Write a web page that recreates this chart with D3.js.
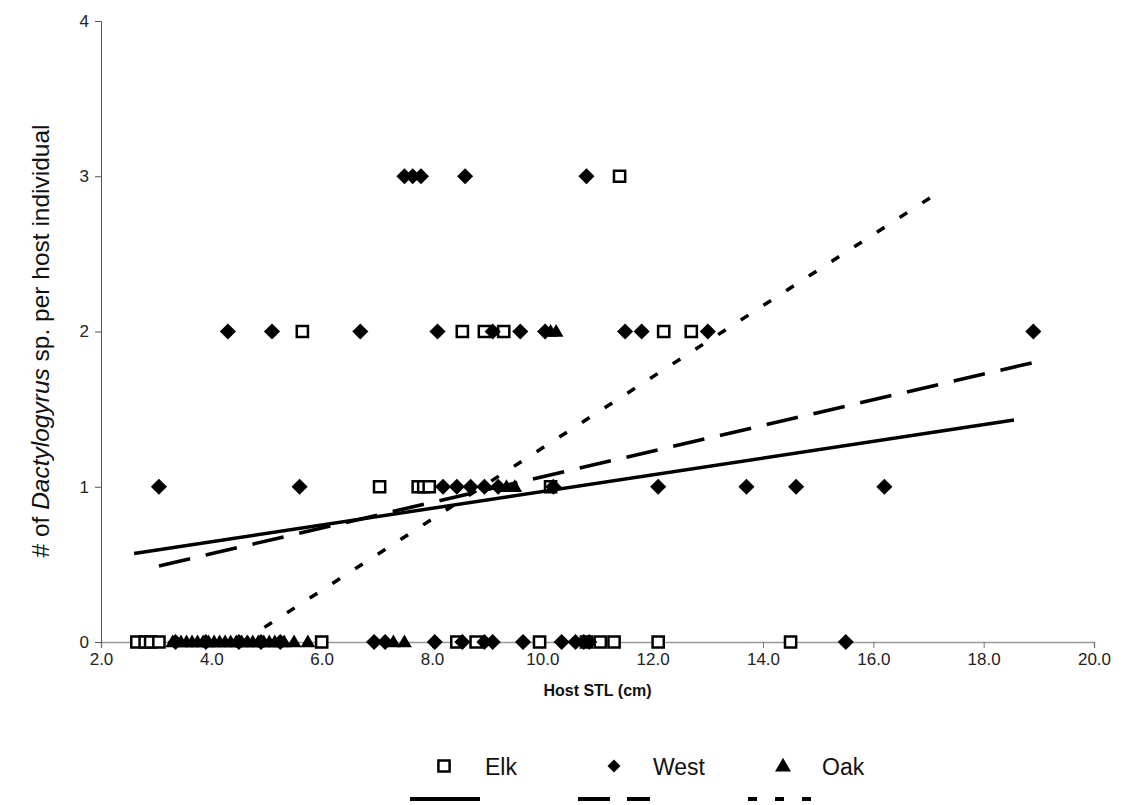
<!DOCTYPE html>
<html>
<head>
<meta charset="utf-8">
<script src="https://cdn.jsdelivr.net/npm/d3@7"></script>
<style>
  body { margin: 0; background: #fff; }
  text { font-family: "Liberation Sans", Arial, sans-serif; }
</style>
</head>
<body>
<div id="chart"></div>
<script>
// ---- data ----
const xTicks = [2, 4, 6, 8, 10, 12, 14, 16, 18, 20];
const yTicks = [0, 1, 2, 3, 4];

// Elk (open squares)
const elkSTL   = [2.65, 2.8, 2.9, 3.05, 6.0, 8.45, 8.8, 9.95, 10.8, 11.05, 11.3, 12.1, 14.5,
                  7.05, 7.75, 7.85, 7.95, 10.15,
                  5.65, 8.55, 8.95, 9.3, 12.2, 12.7,
                  11.4];
const elkCount = [0, 0, 0, 0, 0, 0, 0, 0, 0, 0, 0, 0, 0,
                  1, 1, 1, 1, 1,
                  2, 2, 2, 2, 2, 2,
                  3];

// West (diamonds)
const westSTL   = [3.35, 3.9, 4.5, 4.9, 5.25, 6.95, 7.15, 8.05, 8.55, 8.95, 9.1, 9.65, 10.35, 10.6, 10.75, 10.85, 15.5,
                   3.05, 5.6, 8.2, 8.45, 8.7, 8.95, 9.2, 10.2, 12.1, 13.7, 14.6, 16.2,
                   4.3, 5.1, 6.7, 8.1, 9.1, 9.6, 10.05, 11.5, 11.8, 13.0, 18.9,
                   7.5, 7.65, 7.8, 8.6, 10.8];
const westCount = [0, 0, 0, 0, 0, 0, 0, 0, 0, 0, 0, 0, 0, 0, 0, 0, 0,
                   1, 1, 1, 1, 1, 1, 1, 1, 1, 1, 1, 1,
                   2, 2, 2, 2, 2, 2, 2, 2, 2, 2, 2,
                   3, 3, 3, 3, 3];

// Oak (triangles)
const oakSTL   = [3.3, 3.45, 3.55, 3.65, 3.75, 3.85, 3.95, 4.05, 4.15, 4.25, 4.35, 4.45, 4.55, 4.65,
                  4.75, 4.85, 4.95, 5.05, 5.15, 5.25, 5.32,
                  5.5, 5.75, 7.3, 7.5,
                  9.35, 9.5,
                  10.15, 10.25];
const oakCount = [0, 0, 0, 0, 0, 0, 0, 0, 0, 0, 0, 0, 0, 0,
                  0, 0, 0, 0, 0, 0, 0,
                  0, 0, 0, 0,
                  1, 1,
                  2, 2];

// linear trend lines (end points)
const elkTrendX  = [2.6, 18.55];
const elkTrendY  = [0.57, 1.43];
const westTrendX = [3.05, 18.9];
const westTrendY = [0.49, 1.80];
const oakTrendX  = [4.55, 17.2];
const oakTrendY  = [0.0, 2.9];

const legendNames = ["Elk", "West", "Oak"];

// ---- layout ----
const W = 1122, H = 805;
const margin = {top: 21, right: 28, bottom: 163, left: 101};
const width = W - margin.left - margin.right,
      height = H - margin.top - margin.bottom;

const root = d3.select("#chart").append("svg")
  .attr("width", W).attr("height", H);

const svg = root.append("g")
  .attr("transform", `translate(${margin.left},${margin.top})`);

const x = d3.scaleLinear().domain([2, 20]).range([0, width]);
const y = d3.scaleLinear().domain([0, 4]).range([height, 0]);

// x axis
const xAxis = svg.append("g")
  .attr("transform", `translate(0,${height})`)
  .call(d3.axisBottom(x).tickValues(xTicks).tickFormat(d3.format(".1f")).tickSizeOuter(0).tickSize(6).tickPadding(5));
xAxis.select(".domain").attr("stroke", "#999").attr("stroke-width", 1.5);
xAxis.selectAll(".tick line").attr("stroke", "#777");
xAxis.selectAll(".tick text").attr("font-size", 17).attr("fill", "#222")
  .attr("font-family", "'Liberation Sans', Arial, sans-serif");

// y axis
const yAxis = svg.append("g")
  .call(d3.axisLeft(y).tickValues(yTicks).tickFormat(d3.format("d")).tickSizeOuter(0).tickSize(6).tickPadding(6));
yAxis.select(".domain").attr("stroke", "#555");
yAxis.selectAll(".tick line").attr("stroke", "#555");
yAxis.selectAll(".tick text").attr("font-size", 17).attr("fill", "#222")
  .attr("font-family", "'Liberation Sans', Arial, sans-serif");

// axis titles
svg.append("text")
  .attr("x", width / 2).attr("y", height + 54)
  .attr("text-anchor", "middle")
  .attr("font-size", 16).attr("font-weight", "bold").attr("fill", "#111")
  .text("Host STL (cm)");

const yTitle = root.append("text")
  .attr("transform", `translate(49,${margin.top + 320}) rotate(-90)`)
  .attr("text-anchor", "middle")
  .attr("font-size", 24.5).attr("fill", "#111");
yTitle.append("tspan").text("# of ");
yTitle.append("tspan").attr("font-style", "italic").text("Dactylogyrus");
yTitle.append("tspan").text(" sp. per host individual");

// ---- markers ----
const squareSym   = d3.symbol().type(d3.symbolSquare).size(125);
const diamondSym  = d3.symbol().type(d3.symbolSquare).size(130);
const triangleSym = d3.symbol().type(d3.symbolTriangle).size(95);

const elk  = elkSTL.map((v, i) => ({stl: v, n: elkCount[i]}));
const west = westSTL.map((v, i) => ({stl: v, n: westCount[i]}));
const oak  = oakSTL.map((v, i) => ({stl: v, n: oakCount[i]}));

svg.append("g").selectAll("path")
  .data(elk)
  .join("path")
    .attr("d", squareSym)
    .attr("transform", d => `translate(${x(d.stl)},${y(d.n)})`)
    .attr("fill", "#fff").attr("stroke", "#000").attr("stroke-width", 2.5);

svg.append("g").selectAll("path")
  .data(west)
  .join("path")
    .attr("d", diamondSym)
    .attr("transform", d => `translate(${x(d.stl)},${y(d.n)}) rotate(45)`)
    .attr("fill", "#000");

svg.append("g").selectAll("path")
  .data(oak)
  .join("path")
    .attr("d", triangleSym)
    .attr("transform", d => `translate(${x(d.stl)},${y(d.n) + 1})`)
    .attr("fill", "#000");

// ---- trend lines ----
const line = d3.line().x(d => x(d[0])).y(d => y(d[1]));
const trends = [
  {xs: elkTrendX,  ys: elkTrendY,  dash: null},
  {xs: westTrendX, ys: westTrendY, dash: "32,16"},
  {xs: oakTrendX,  ys: oakTrendY,  dash: "9,18"}
];
svg.append("g").selectAll("path")
  .data(trends)
  .join("path")
    .attr("d", d => line(d.xs.map((v, i) => [v, d.ys[i]])))
    .attr("fill", "none").attr("stroke", "#000").attr("stroke-width", 3.5)
    .attr("stroke-dasharray", d => d.dash);

// ---- legend ----
const legend = root.append("g");
const legX = [444, 614, 783];
const legTextX = [485, 653, 822];
const legY = 766;
const legSyms = [squareSym, d3.symbol().type(d3.symbolSquare).size(85), d3.symbol().type(d3.symbolTriangle).size(110)];

legendNames.forEach((name, i) => {
  legend.append("path")
    .attr("d", legSyms[i])
    .attr("transform", `translate(${legX[i]},${legY + (i === 2 ? 1 : 0)})` + (i === 1 ? " rotate(45)" : ""))
    .attr("fill", i === 0 ? "#fff" : "#000")
    .attr("stroke", i === 0 ? "#000" : "none")
    .attr("stroke-width", 2.5);
  legend.append("text")
    .attr("x", legTextX[i]).attr("y", legY + 9)
    .attr("font-size", 23).attr("fill", "#111")
    .text(name);
});

const legLines = [
  {x1: 410, x2: 480, dash: null},
  {x1: 578, x2: 650, dash: "32,17"},
  {x1: 748, x2: 812, dash: "9,18"}
];
legend.selectAll("line")
  .data(legLines)
  .join("line")
    .attr("x1", d => d.x1).attr("x2", d => d.x2)
    .attr("y1", 799).attr("y2", 799)
    .attr("stroke", "#000").attr("stroke-width", 4)
    .attr("stroke-dasharray", d => d.dash);
</script>
</body>
</html>
